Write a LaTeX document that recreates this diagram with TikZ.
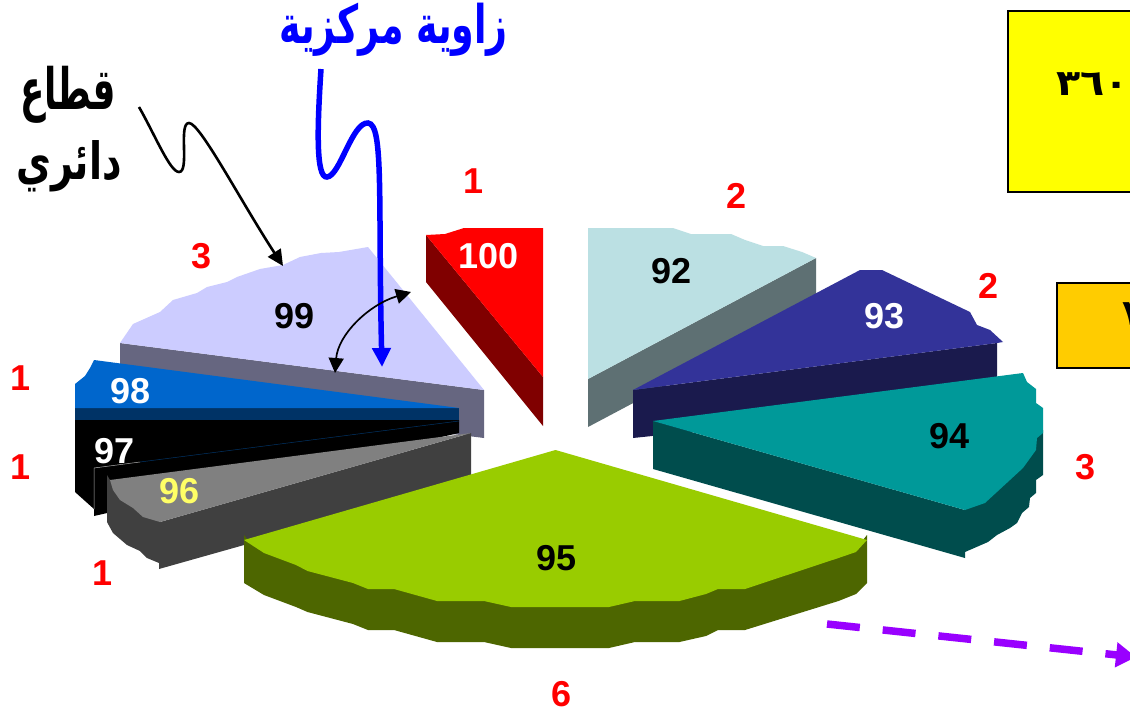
\documentclass[tikz,border=0pt]{standalone}
\usepackage{fontspec}
\setmainfont{Liberation Sans}
\newfontfamily\arabicfont[Script=Arabic]{DejaVu Sans}
\TeXXeTstate=1
\usetikzlibrary{arrows.meta,calc}
\definecolor{cRed}{HTML}{FF0000}
\definecolor{cRedD}{HTML}{800000}
\definecolor{cLav}{HTML}{CCCCFF}
\definecolor{cLavD}{HTML}{666680}
\definecolor{cBlue}{HTML}{0066CC}
\definecolor{cBlueD}{HTML}{003366}
\definecolor{cGray}{HTML}{808080}
\definecolor{cGrayD}{HTML}{404040}
\definecolor{cLime}{HTML}{99CC00}
\definecolor{cLimeD}{HTML}{4D6600}
\definecolor{cTeal}{HTML}{009999}
\definecolor{cTealD}{HTML}{004D4D}
\definecolor{cNavy}{HTML}{333399}
\definecolor{cNavyD}{HTML}{1A1A4D}
\definecolor{cIce}{HTML}{BBE0E3}
\definecolor{cIceD}{HTML}{5E7073}
\definecolor{cPurple}{HTML}{9900FF}
\definecolor{cOrange}{HTML}{FFCC00}
\definecolor{cYel}{HTML}{FFFF66}
\definecolor{cPure}{HTML}{FFFF00}
\definecolor{cPureBlue}{HTML}{0000FF}
\tikzset{
 num/.style={font=\fontsize{36}{36}\selectfont\bfseries,inner sep=0pt},
 pct/.style={num,text=cRed},
 arab/.style={font=\arabicfont\bfseries\fontsize{38}{38}\selectfont,inner sep=0pt},
 digit/.style={font=\arabicfont\bfseries\fontsize{36}{36}\selectfont,anchor=west,inner sep=0pt},
 box/.style={draw=black,line width=2pt}
}
\begin{document}
\begin{tikzpicture}[x=1pt,y=-1pt,line join=miter]
\useasboundingbox (0,0) rectangle (1130,712);
\clip (0,0) rectangle (1130,712);
\fill[white] (0,0) rectangle (1130,712);
% boxes
\path[box,fill=cPure] (1008,11) rectangle (1145,192);
\node[digit,xscale=1.1] (t360) at (1056,84) {٣٦٠};
\path[box,fill=cOrange] (1057,283) rectangle (1145,368);
\node[digit] (t7) at (1122,314) {٧};
% 100
\fill[cRedD] (426,235) -- (543,377) -- (543,426) -- (426,282) -- cycle;
\fill[cRed] (426,235) -- (445,234) -- (464,228) -- (543,228) -- (543,377) -- cycle;
% 92
\fill[cIceD] (588,379) -- (816,258) -- (816,306) -- (588,427) -- cycle;
\fill[cIce] (588,228) -- (673,228) -- (691,234) -- (731,234) -- (745,240) -- (763,246) -- (783,246) -- (802,252) -- (816,258) -- (588,379) -- cycle;
% 93
\fill[cNavyD] (633,390) -- (997,343) -- (997,400) -- (633,438) -- cycle;
\fill[cNavy] (633,390) -- (860,270) -- (882,270) -- (970,312) -- (977,325) -- (990,330) -- (1003,342) -- (997,343) -- cycle;
% 94
\fill[cTealD] (653,421) -- (965,510) -- (965,558) -- (653,469) -- cycle;
\fill[cTealD] (965,510) -- (1023,440) -- (1043,430) -- (1043,475) -- (1036,480) -- (1036,493) -- (1030,498) -- (1029,507) -- (1022,513) -- (1017,523) -- (1010,528) -- (997,535) -- (988,542) -- (965,552) -- cycle;
\fill[cTeal] (653,421) -- (1023,373) -- (1027,382) -- (1036,389) -- (1036,403) -- (1043,408) -- (1043,433) -- (1037,438) -- (1036,450) -- (1023,468) -- (985,503) -- (965,510) -- cycle;
% 99
\fill[cLavD] (120,343) -- (484,390) -- (484,438) -- (120,392) -- cycle;
\fill[cLav] (120,343) -- (133,324) -- (160,312) -- (173,300) -- (197,293) -- (207,287) -- (227,282) -- (237,277) -- (260,269) -- (283,265) -- (300,257) -- (321,253) -- (339,252) -- (368,247) -- (484,390) -- cycle;
% 97
\fill[black] (75,420) -- (459,420) -- (459,433) -- (94,516) -- (94,509) -- (75,492) -- cycle;
\draw[cBlueD,line width=.5pt] (140,462) -- (459,421);
\draw[white!70!black,line width=.5pt] (94,509) -- (94,468) -- (140,462);
% 98
\fill[cBlueD] (75,408) -- (459,408) -- (459,420) -- (75,420) -- cycle;
\fill[cBlue] (94,360) -- (459,408) -- (75,408) -- (75,384) -- (85,376) -- (90,368) -- cycle;
% 96
\fill[cGrayD] (107,475) -- (110,480) -- (160,522) -- (471,433) -- (471,481) -- (159,569) -- (159,563) -- (147,558) -- (140,551) -- (127,545) -- (113,533) -- (107,522) -- cycle;
\fill[cGray] (110,480) -- (471,433) -- (160,522) -- (143,517) -- (133,508) -- (120,500) -- (113,490) -- cycle;
% 95
\fill[cLimeD] (244,535) -- (248,540) -- (863,540) -- (867,535) -- (867,583) -- (856,594) -- (838.5,601) -- (745,630) -- (718,630) -- (706,636) -- (679.5,642) -- (635,642) -- (609,648) -- (511,648) -- (484,642) -- (437,642) -- (394,630) -- (368,630) -- (353,624) -- (307.5,612) -- (296,607) -- (264,595) -- (244,583) -- cycle;
\fill[cLime] (244,540) -- (555.5,450) -- (867,540) -- (856,552) -- (838.5,558) -- (745,589) -- (718,589) -- (706,594) -- (679.5,601) -- (635,601) -- (609,607) -- (511,607) -- (484,601) -- (437,601) -- (394,589) -- (368,589) -- (353,583) -- (307.5,571) -- (296,565) -- (264,553) -- cycle;
% numbers
\node[num,text=white] (n100) at (488.5,256) {100};
\node[num] (n92) at (671.5,271) {92};
\node[num,text=white] (n93) at (884.5,316) {93};
\node[num] (n94) at (949.5,436) {94};
\node[num] (n95) at (556.5,558) {95};
\node[num,text=cYel] (n96) at (180,491) {96};
\node[num,text=white] (n97) at (114.5,451) {97};
\node[num,text=white] (n98) at (131,391) {98};
\node[num] (n99) at (294.5,316) {99};
\node[pct] (p1) at (474,181) {1};
\node[pct] (p2) at (736.5,196) {2};
\node[pct] (p3) at (988,286) {2};
\node[pct] (p4) at (1085.5,467) {3};
\node[pct] (p5) at (561.5,694) {6};
\node[pct] (p6) at (103,573) {1};
\node[pct] (p7) at (21,467) {1};
\node[pct] (p8) at (21,378) {1};
\node[pct] (p9) at (201.5,256) {3};
% arabic labels
\node[arab,text=cPureBlue,xscale=.955,yscale=1.4] (lz) at (393.5,30) {\beginR زاوية مركزية\endR};
\node[arab,xscale=.94,yscale=1.5] (lq) at (68,95) {\beginR قطاع\endR};
\node[arab,xscale=1.0,yscale=1.35] (ld) at (69,166) {\beginR دائري\endR};
% connectors
\coordinate (a1) at (139,107);
\coordinate (a2) at (283,266);
\draw[line width=2.6pt,-{Triangle[length=16pt,width=15pt]}] (a1) .. controls (155,135) and (170,172) .. (179,172) .. controls (190,172) and (178,123) .. (189,123) .. controls (200,123) and (240,200) .. (a2);
\coordinate (b1) at (321,69);
\coordinate (b2) at (382,367);
\draw[cPureBlue,line width=5.5pt,-{Triangle[length=19pt,width=18pt]}] (b1) .. controls (317,130) and (316,178) .. (327,177) .. controls (340,176) and (352,122) .. (368,123) .. controls (384,124) and (378,200) .. (b2);
\coordinate (c1) at (335,373);
\coordinate (c2) at (411,292);
\draw[line width=1.7pt,{Triangle[length=15pt,width=15pt]}-{Triangle[length=15pt,width=15pt]}] (c1) .. controls (338,335) and (368,305) .. (c2);
\coordinate (d1) at (827,624);
\coordinate (d2) at (1136,657);
\draw[cPurple,line width=7.5pt,dash pattern=on 33pt off 23pt,-{Triangle[length=20pt,width=24pt]}] (d1) -- (d2);
\end{tikzpicture}
\end{document}
